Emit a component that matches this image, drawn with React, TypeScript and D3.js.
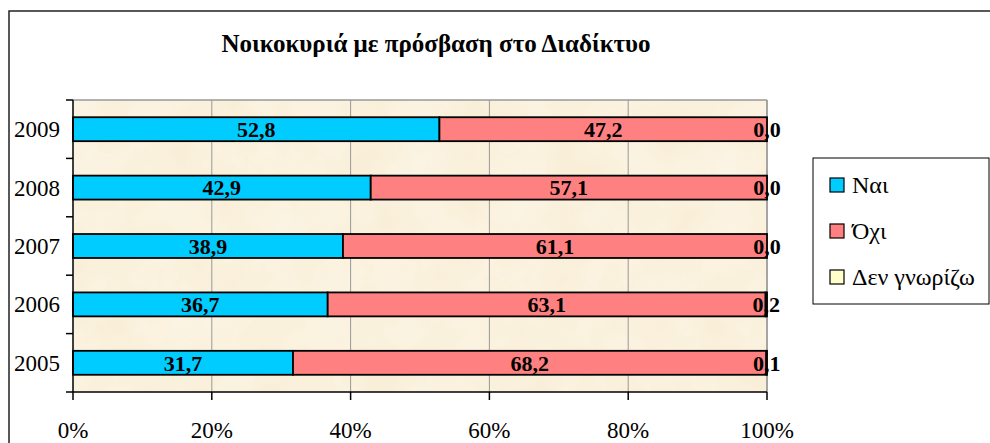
import React from "react";
import * as d3 from "d3";

const years = ["2009", "2008", "2007", "2006", "2005"];
const seriesNames = ["Ναι", "Όχι", "Δεν γνωρίζω"];
const yes = [52.8, 42.9, 38.9, 36.7, 31.7];
const no = [47.2, 57.1, 61.1, 63.1, 68.2];
const dontKnow = [0.0, 0.0, 0.0, 0.2, 0.1];
const xTicks = [0, 0.2, 0.4, 0.6, 0.8, 1];
const colors = ["#00CCFF", "#FF8080", "#FFFFCC"];
const title = "Νοικοκυριά με πρόσβαση στο Διαδίκτυο";

const W = 990;
const H = 443;
const plot = { left: 73, right: 767, top: 100, bottom: 392 };
const serif = "Liberation Serif, Times New Roman, DejaVu Serif, serif";

export default function App() {
  const rows = years.map((y, i) => ({ year: y, v: [yes[i], no[i], dontKnow[i]] }));
  const x = d3.scaleLinear().domain([0, 1]).range([plot.left, plot.right]);
  const y = d3
    .scaleBand<string>()
    .domain(years)
    .range([plot.top, plot.bottom])
    .paddingInner(0.59)
    .paddingOuter(0.295);
  const step = y.step();
  const bw = y.bandwidth();
  const fmt = (v: number) => v.toFixed(1).replace(".", ",");
  const ts = { fontFamily: serif };

  return (
    <svg
      width={W}
      height={H}
      style={{ position: "absolute", left: 0, top: 0, background: "#fff", fontFamily: serif }}
    >
      <defs>
        <filter id="parch" x="0" y="0" width="100%" height="100%">
          <feTurbulence type="fractalNoise" baseFrequency="0.02" numOctaves="3" seed="4" result="n" />
          <feColorMatrix
            in="n"
            type="matrix"
            values="0 0 0 0 0.99  0 0 0 0 0.95  0 0 0 0 0.86  0 0 0 -1.2 0.9"
            result="c"
          />
          <feComposite in="c" in2="SourceGraphic" operator="in" />
        </filter>
      </defs>
      <rect x={9} y={11} width={1000} height={460} fill="#fff" stroke="#222" strokeWidth={1.5} />
      <text x={436} y={52} textAnchor="middle" fontWeight="bold" fontSize={25} style={ts}>
        {title}
      </text>
      <rect
        x={plot.left}
        y={plot.top}
        width={plot.right - plot.left}
        height={plot.bottom - plot.top}
        fill="#F9EFD9"
      />
      <rect
        x={plot.left}
        y={plot.top}
        width={plot.right - plot.left}
        height={plot.bottom - plot.top}
        fill="#FBF4E6"
        filter="url(#parch)"
        opacity={0.7}
      />
      {xTicks.slice(1).map((t) => (
        <line key={t} x1={x(t)} x2={x(t)} y1={plot.top} y2={plot.bottom} stroke="#999" strokeWidth={1} />
      ))}
      <line x1={plot.left} x2={plot.right} y1={plot.top} y2={plot.top} stroke="#999" strokeWidth={1.5} />
      <line x1={plot.right} x2={plot.right} y1={plot.top} y2={plot.bottom} stroke="#999" strokeWidth={1.5} />
      {rows.map((r) => {
        const total = d3.sum(r.v);
        let acc = 0;
        const y0 = y(r.year)!;
        return (
          <g key={r.year}>
            {r.v.map((v, j) => {
              const a = acc / total;
              acc += v;
              const b = acc / total;
              return (
                <rect
                  key={j}
                  x={x(a)}
                  y={y0}
                  width={Math.max(0, x(b) - x(a))}
                  height={bw}
                  fill={colors[j]}
                  stroke="#000"
                  strokeWidth={1.8}
                />
              );
            })}
          </g>
        );
      })}
      {rows.map((r) => {
        const total = d3.sum(r.v);
        let acc = 0;
        const yc = y(r.year)! + bw / 2;
        return (
          <g key={r.year}>
            {r.v.map((v, j) => {
              const a = acc / total;
              acc += v;
              const b = acc / total;
              return (
                <text
                  key={j}
                  x={(x(a) + x(b)) / 2}
                  y={yc}
                  dy="0.35em"
                  textAnchor="middle"
                  fontWeight="bold"
                  fontSize={22}
                  style={ts}
                >
                  {fmt(v)}
                </text>
              );
            })}
          </g>
        );
      })}
      <line x1={plot.left} x2={plot.left} y1={plot.top} y2={plot.bottom} stroke="#000" strokeWidth={1.5} />
      <line x1={plot.left} x2={plot.right} y1={plot.bottom} y2={plot.bottom} stroke="#000" strokeWidth={1.5} />
      {years.map((yr, i) => (
        <line
          key={"yt" + yr}
          x1={plot.left - 7}
          x2={plot.left}
          y1={plot.top + i * step}
          y2={plot.top + i * step}
          stroke="#000"
          strokeWidth={1.5}
        />
      ))}
      <line x1={plot.left - 7} x2={plot.left} y1={plot.bottom} y2={plot.bottom} stroke="#000" strokeWidth={1.5} />
      {years.map((yr) => (
        <text key={"yl" + yr} x={60} y={y(yr)! + bw / 2} dy="0.35em" textAnchor="end" fontSize={23} style={ts}>
          {yr}
        </text>
      ))}
      {xTicks.map((t) => (
        <g key={"xt" + t}>
          <line x1={x(t)} x2={x(t)} y1={plot.bottom} y2={plot.bottom + 8} stroke="#000" strokeWidth={1.5} />
          <text x={x(t)} y={438} textAnchor="middle" fontSize={23} style={ts}>
            {d3.format(".0%")(t)}
          </text>
        </g>
      ))}
      <rect x={813} y={158} width={176} height={146} fill="#fff" stroke="#000" strokeWidth={1} />
      {seriesNames.map((s, i) => {
        const cy = 185 + i * 46;
        return (
          <g key={s}>
            <rect x={830} y={cy - 7} width={14} height={14} fill={colors[i]} stroke="#000" strokeWidth={1.2} />
            <text x={852} y={cy} dy="0.35em" fontSize={24} style={ts}>
              {s}
            </text>
          </g>
        );
      })}
    </svg>
  );
}
